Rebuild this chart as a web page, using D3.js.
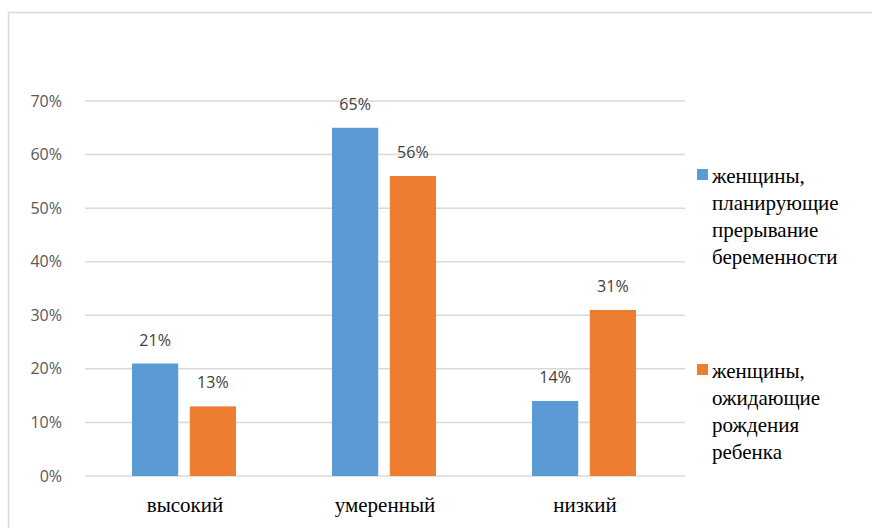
<!DOCTYPE html>
<html>
<head>
<meta charset="utf-8">
<script src="https://cdn.jsdelivr.net/npm/d3@7"></script>
<style>
  body { margin: 0; background: #fff; }
</style>
</head>
<body>
<svg id="chart" width="872" height="528"></svg>
<script>
var categories = ["высокий", "умеренный", "низкий"];
var seriesNames = ["планирующие", "ожидающие"];
var planning = [21, 65, 14];
var expecting = [13, 56, 31];
var yTicks = [0, 10, 20, 30, 40, 50, 60, 70];
var legendLines = [
  ["женщины,", "планирующие", "прерывание", "беременности"],
  ["женщины,", "ожидающие", "рождения", "ребенка"]
];
var colors = ["#5b9bd5", "#ed7d31"];

var sansFont = "'Open Sans', 'Liberation Sans', sans-serif";
var serifFont = "'Times New Roman', Times, 'Liberation Serif', Tinos, 'DejaVu Serif', 'Noto Serif', FreeSerif, serif";

var svg = d3.select("#chart");

// outer frame
svg.append("rect")
  .attr("x", 8.5).attr("y", 12.5)
  .attr("width", 880).attr("height", 530)
  .attr("fill", "none").attr("stroke", "#d9d9d9").attr("stroke-width", 1.5);

var y = d3.scaleLinear().domain([0, 70]).range([476, 101]);
var x0 = d3.scaleBand().domain(categories).range([85, 685]);
var x1 = d3.scaleBand().domain(seriesNames).range([47, 151]).paddingInner(0.2);

// gridlines
svg.append("g").selectAll("line")
  .data(yTicks)
  .enter().append("line")
    .attr("x1", 85).attr("x2", 685)
    .attr("y1", function(d) { return y(d); })
    .attr("y2", function(d) { return y(d); })
    .attr("stroke", "#d9d9d9").attr("stroke-width", 1.5);

// y axis labels
var yAxis = svg.append("g")
  .attr("transform", "translate(64,0)")
  .call(d3.axisLeft(y).tickValues(yTicks).tickSize(0).tickFormat(function(d) { return d + "%"; }));
yAxis.select(".domain").remove();
yAxis.selectAll("text")
  .attr("x", -2)
  .style("font-family", sansFont)
  .style("font-size", "16px")
  .style("fill", "#595959");

var rows = categories.map(function(c, i) {
  return { cat: c, vals: [planning[i], expecting[i]] };
});

var groups = svg.append("g").selectAll("g")
  .data(rows)
  .enter().append("g")
    .attr("transform", function(d) { return "translate(" + x0(d.cat) + ",0)"; });

groups.selectAll("rect")
  .data(function(d) { return d.vals.map(function(v, j) { return { s: seriesNames[j], v: v, j: j }; }); })
  .enter().append("rect")
    .attr("x", function(d) { return x1(d.s); })
    .attr("width", x1.bandwidth())
    .attr("y", function(d) { return y(d.v); })
    .attr("height", function(d) { return y(0) - y(d.v); })
    .attr("fill", function(d) { return colors[d.j]; });

groups.selectAll("text.lbl")
  .data(function(d) { return d.vals.map(function(v, j) { return { s: seriesNames[j], v: v }; }); })
  .enter().append("text")
    .attr("class", "lbl")
    .attr("x", function(d) { return x1(d.s) + x1.bandwidth() / 2; })
    .attr("y", function(d) { return y(d.v) - 18; })
    .attr("text-anchor", "middle")
    .style("font-family", sansFont)
    .style("font-size", "16px")
    .style("fill", "#404040")
    .text(function(d) { return d.v + "%"; });

// category labels
svg.append("g").selectAll("text")
  .data(categories)
  .enter().append("text")
    .attr("x", function(d) { return x0(d) + x0.bandwidth() / 2; })
    .attr("y", 512)
    .attr("text-anchor", "middle")
    .style("font-family", serifFont)
    .style("font-size", "21px")
    .style("fill", "#000")
    .text(function(d) { return d; });

// legend
var legend = svg.append("g").selectAll("g")
  .data(legendLines)
  .enter().append("g")
    .attr("transform", function(d, i) { return "translate(697," + (i === 0 ? 169 : 364) + ")"; });

legend.append("rect")
  .attr("width", 11).attr("height", 11)
  .attr("fill", function(d, i) { return colors[i]; });

legend.each(function(lines) {
  var t = d3.select(this).append("text")
    .style("font-family", serifFont)
    .style("font-size", "21px")
    .style("fill", "#000");
  lines.forEach(function(s, k) {
    t.append("tspan").attr("x", 15).attr("y", 14 + k * 27).text(s);
  });
});
</script>
</body>
</html>
